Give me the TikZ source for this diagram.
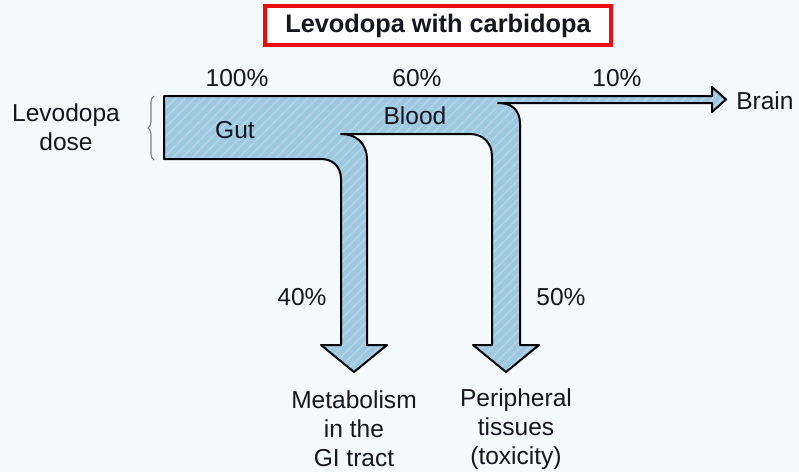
\documentclass[tikz,border=0pt]{standalone}
\usepackage{fontspec}
\setmainfont{Liberation Sans}
\usepackage{tikz}
\usetikzlibrary{patterns.meta, decorations.pathreplacing, positioning}
\definecolor{flow_blue}{RGB}{158,199,224}
\definecolor{stripe_blue}{RGB}{178,212,232}
\definecolor{bg_tint}{RGB}{244,249,252}
\definecolor{title_red}{RGB}{236,12,12}
\definecolor{ink}{RGB}{22,22,30}
\tikzset{
    flow/.style={
        draw=black, line width=1.5pt, line join=round,
        fill=flow_blue
    },
    stripes/.style={
        pattern={Lines[angle=45, distance=5pt, line width=1.2pt]},
        pattern color=stripe_blue
    },
    lbl/.style={
        inner sep=0pt, align=center, text=ink,
        font=\fontsize{18.4}{21.75}\selectfont
    },
}

\begin{document}
\begin{tikzpicture}[x=0.75pt, y=-0.75pt]
    % canvas
    \fill[bg_tint] (0,0) rectangle (799,472);
    \useasboundingbox (0,0) rectangle (799,472);

    % title
    \node[
        draw=title_red, line width=3pt, fill=white, text=ink,
        minimum width=346*0.75pt, minimum height=39*0.75pt,
        inner sep=0pt, font=\fontsize{19}{22}\selectfont\bfseries
    ] (title) at (438,25.5) {Levodopa with carbidopa};

    % the flow band
    \def\flowpath{
        (164,96) -- (712,96) -- (712,87) -- (726,99.5) -- (712,112)
        -- (712,103) -- (498,103)
        .. controls (512,103) and (520,110) .. (520,124)
        -- (520,345) -- (539,345) -- (506,372) -- (473,345) -- (492,345)
        -- (492,156) .. controls (492,143) and (483,134) .. (470,134)
        -- (341,134) .. controls (356,134) and (367,143) .. (367,160)
        -- (367,345) -- (387,345) -- (354,372) -- (321,345) -- (341,345)
        -- (341,179) .. controls (341,167) and (333,159) .. (321,159)
        -- (164,159) -- cycle
    }
    \fill[flow_blue] \flowpath;
    \fill[stripes] \flowpath;
    \draw[flow, fill=none] \flowpath;

    % dose brace
    \draw[gray, line width=0.8pt, decorate,
        decoration={brace, amplitude=4.5pt}]
        (154,160) -- (154,96);
    \node[lbl] (dose) at (66,127) {Levodopa\\dose};

    % compartments
    \node[lbl] (gut) at (235,130) {Gut};
    \node[lbl] (blood) at (415,116) {Blood};
    \node[lbl, anchor=west] (brain) at (736,101) {Brain};

    % fractions
    \node[lbl] (pctGut) at (237,78) {100\%};
    \node[lbl] (pctBlood) at (417,78) {60\%};
    \node[lbl] (pctBrain) at (617,78) {10\%};
    \node[lbl] (pctGI) at (302,297) {40\%};
    \node[lbl] (pctPeri) at (561,297) {50\%};

    % sinks
    \node[lbl] (metab) at (354,429) {Metabolism\\in the\\GI tract};
    \node[lbl] (peri) at (516,429) {Peripheral\\tissues\\(toxicity)};
\end{tikzpicture}
\end{document}
